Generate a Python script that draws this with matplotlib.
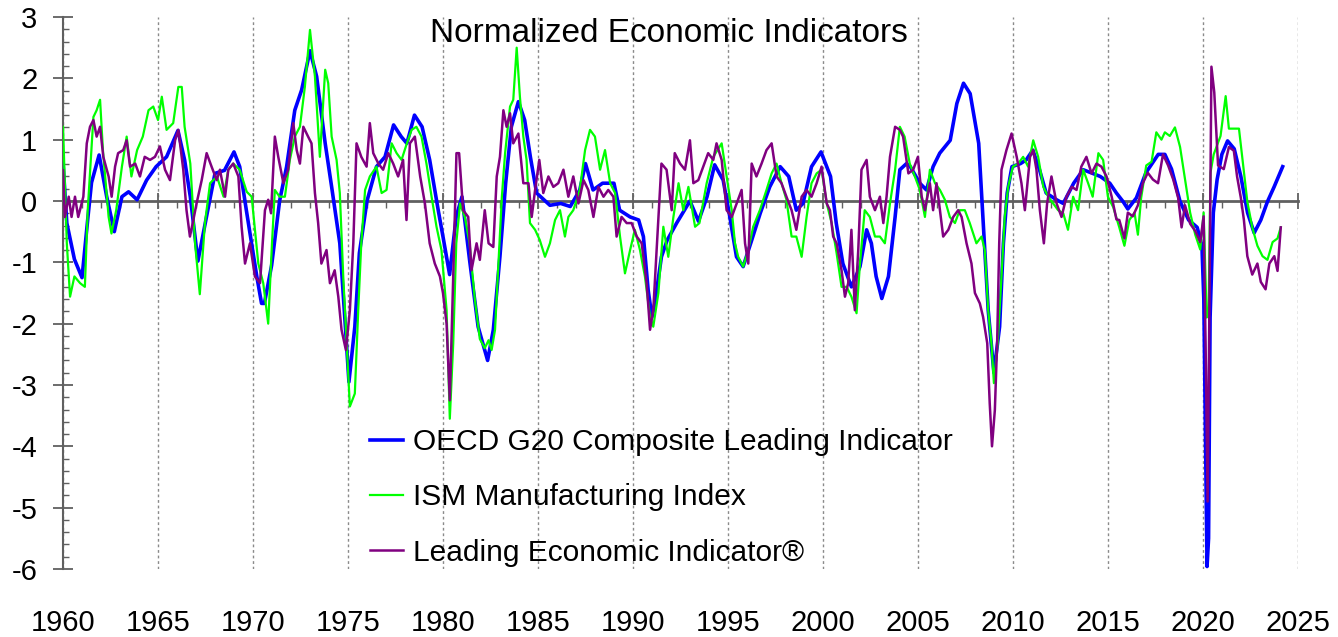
import matplotlib
matplotlib.use("Agg")
import matplotlib.pyplot as plt
from matplotlib.ticker import MultipleLocator

plt.rcParams["font.family"] = ["Liberation Sans", "DejaVu Sans"]
plt.rcParams["axes.unicode_minus"] = False

# ------------------------------------------------------------
# Data
# ------------------------------------------------------------

oecd_years = [
    1960.0, 1960.2, 1960.6, 1961.0, 1961.3, 1961.5, 1961.9, 1962.3, 1962.7, 1963.1,
    1963.45, 1963.9, 1964.4, 1964.9, 1965.45, 1966.05, 1966.4, 1966.7, 1967.1, 1967.55,
    1968.0, 1968.5, 1969.0, 1969.3, 1969.65, 1970.2, 1970.45, 1970.6, 1970.98, 1971.4,
    1971.77, 1972.2, 1972.56, 1973.0, 1973.35, 1973.8, 1974.14, 1974.57, 1974.84, 1975.05,
    1975.36, 1975.6, 1976.0, 1976.5, 1976.95, 1977.4, 1977.8, 1978.1, 1978.5, 1978.9,
    1979.3, 1979.75, 1980.0, 1980.35, 1980.7, 1981.0, 1981.4, 1981.85, 1982.35, 1982.65,
    1983.0, 1983.3, 1983.6, 1983.97, 1984.3, 1984.6, 1984.93, 1985.63, 1986.2, 1986.7,
    1987.2, 1987.5, 1987.9, 1988.4, 1989.0, 1989.3, 1989.85, 1990.3, 1990.55, 1990.8,
    1991.0, 1991.15, 1991.5, 1991.8, 1992.3, 1993.0, 1993.45, 1993.9, 1994.3, 1994.75,
    1995.1, 1995.45, 1995.8, 1996.25, 1996.7, 1997.2, 1997.75, 1998.2, 1998.6, 1998.95,
    1999.4, 1999.9, 2000.4, 2000.7, 2001.05, 2001.5, 2001.95, 2002.3, 2002.55, 2002.8,
    2003.1, 2003.45, 2003.8, 2004.05, 2004.4, 2004.6, 2005.1, 2005.45, 2005.8, 2006.15,
    2006.7, 2007.05, 2007.4, 2007.75, 2008.2, 2008.45, 2008.7, 2009.0, 2009.3, 2009.5,
    2009.7, 2009.95, 2010.4, 2010.7, 2011.05, 2011.4, 2011.75, 2012.3, 2012.65, 2013.2,
    2013.7, 2014.2, 2014.6, 2015.1, 2015.45, 2015.8, 2016.05, 2016.5, 2017.0, 2017.65,
    2018.0, 2018.35, 2018.8, 2019.25, 2019.7, 2019.95, 2020.05, 2020.12, 2020.22, 2020.3,
    2020.38, 2020.55, 2020.75, 2021.0, 2021.3, 2021.65, 2022.0, 2022.35, 2022.7, 2023.05,
    2023.4, 2023.75, 2024.2,
]
oecd_values = [
    0.62, -0.36, -0.95, -1.25, -0.3, 0.3, 0.75, 0.07, -0.5, 0.07,
    0.15, 0.02, 0.34, 0.56, 0.72, 1.15, 0.67, 0.07, -0.98, -0.26,
    0.45, 0.5, 0.8, 0.56, -0.15, -1.23, -1.67, -1.67, -1.05, 0.0,
    0.56, 1.48, 1.81, 2.45, 2.03, 0.94, 0.23, -0.69, -1.94, -2.95,
    -2.05, -0.85, 0.0, 0.56, 0.72, 1.24, 1.05, 0.94, 1.40, 1.21,
    0.67, -0.15, -0.58, -1.2, -0.25, 0.07, -0.96, -2.05, -2.6, -2.1,
    -0.9, 0.29, 1.21, 1.62, 1.32, 0.72, 0.13, -0.07, -0.04, -0.09,
    0.18, 0.61, 0.18, 0.29, 0.29, -0.15, -0.26, -0.31, -0.58, -1.45,
    -1.89, -1.67, -0.91, -0.64, -0.36, 0.0, -0.33, 0.07, 0.59, 0.34,
    -0.26, -0.91, -1.07, -0.64, -0.2, 0.23, 0.56, 0.4, -0.15, -0.04,
    0.56, 0.8, 0.4, -0.36, -1.02, -1.4, -1.07, -0.47, -0.69, -1.23,
    -1.59, -1.23, -0.26, 0.51, 0.61, 0.56, 0.29, 0.18, 0.56, 0.78,
    0.99, 1.59, 1.92, 1.75, 0.94, -0.42, -1.78, -2.8, -2.05, -0.69,
    0.13, 0.56, 0.61, 0.67, 0.83, 0.51, 0.13, 0.02, -0.04, 0.29,
    0.51, 0.45, 0.40, 0.29, 0.13, -0.01, -0.13, 0.05, 0.46, 0.76,
    0.76, 0.52, -0.01, -0.31, -0.43, -0.73, -1.6, -3.4, -5.96, -5.5,
    -1.9, -0.19, 0.35, 0.76, 0.98, 0.85, 0.4, -0.19, -0.52, -0.31,
    -0.01, 0.23, 0.56,
]

ism_years = [
    1960.0, 1960.2, 1960.37, 1960.6, 1960.9, 1961.15, 1961.3, 1961.6, 1961.77, 1961.95,
    1962.1, 1962.4, 1962.55, 1962.8, 1963.1, 1963.35, 1963.6, 1963.9, 1964.2, 1964.5,
    1964.75, 1965.0, 1965.2, 1965.45, 1965.8, 1966.07, 1966.25, 1966.4, 1966.7, 1966.95,
    1967.2, 1967.47, 1967.74, 1968.1, 1968.45, 1968.7, 1968.96, 1969.3, 1969.67, 1969.93,
    1970.28, 1970.54, 1970.8, 1971.0, 1971.15, 1971.4, 1971.68, 1971.94, 1972.2, 1972.47,
    1972.73, 1973.0, 1973.26, 1973.52, 1973.8, 1973.96, 1974.14, 1974.4, 1974.57, 1974.75,
    1974.93, 1975.1, 1975.36, 1975.54, 1975.7, 1975.9, 1976.15, 1976.5, 1976.77, 1977.03,
    1977.3, 1977.56, 1977.82, 1978.1, 1978.35, 1978.6, 1978.87, 1979.13, 1979.4, 1979.66,
    1979.92, 1980.19, 1980.36, 1980.54, 1980.7, 1980.9, 1981.15, 1981.4, 1981.68, 1981.94,
    1982.2, 1982.4, 1982.56, 1982.74, 1982.9, 1983.1, 1983.27, 1983.53, 1983.7, 1983.88,
    1984.05, 1984.23, 1984.4, 1984.58, 1984.85, 1985.1, 1985.37, 1985.63, 1985.9, 1986.16,
    1986.42, 1986.6, 1986.86, 1987.2, 1987.48, 1987.74, 1988.0, 1988.27, 1988.53, 1988.8,
    1989.06, 1989.32, 1989.58, 1989.85, 1990.1, 1990.37, 1990.63, 1990.9, 1991.07, 1991.34,
    1991.6, 1991.86, 1992.13, 1992.4, 1992.65, 1992.92, 1993.27, 1993.5, 1993.88, 1994.23,
    1994.67, 1994.93, 1995.2, 1995.37, 1995.54, 1995.8, 1996.07, 1996.33, 1996.68, 1997.03,
    1997.3, 1997.56, 1997.82, 1998.08, 1998.35, 1998.6, 1998.88, 1999.14, 1999.4, 1999.67,
    1999.93, 2000.2, 2000.46, 2000.72, 2000.98, 2001.25, 2001.5, 2001.77, 2001.95, 2002.2,
    2002.47, 2002.74, 2003.0, 2003.26, 2003.53, 2003.8, 2004.05, 2004.3, 2004.57, 2004.84,
    2005.1, 2005.37, 2005.63, 2005.9, 2006.16, 2006.42, 2006.68, 2006.95, 2007.2, 2007.47,
    2007.73, 2008.08, 2008.35, 2008.52, 2008.7, 2008.87, 2009.0, 2009.2, 2009.4, 2009.57,
    2009.75, 2010.0, 2010.28, 2010.54, 2010.8, 2011.07, 2011.33, 2011.6, 2011.86, 2012.12,
    2012.38, 2012.65, 2012.9, 2013.17, 2013.43, 2013.7, 2013.96, 2014.2, 2014.5, 2014.75,
    2015.0, 2015.28, 2015.6, 2015.87, 2016.13, 2016.4, 2016.58, 2016.75, 2017.02, 2017.3,
    2017.55, 2017.82, 2018.0, 2018.26, 2018.53, 2018.8, 2019.06, 2019.33, 2019.6, 2019.86,
    2020.04, 2020.2, 2020.3, 2020.4, 2020.57, 2020.93, 2021.2, 2021.37, 2021.63, 2021.9,
    2022.1, 2022.34, 2022.6, 2022.87, 2023.14, 2023.4, 2023.67, 2023.93, 2024.1,
]
ism_values = [
    1.21, -0.69, -1.56, -1.23, -1.34, -1.4, -0.15, 1.37, 1.48, 1.65,
    0.83, -0.26, -0.53, -0.15, 0.56, 1.05, 0.4, 0.83, 1.05, 1.48,
    1.54, 1.32, 1.7, 1.16, 1.27, 1.86, 1.86, 1.21, 0.61, -0.69,
    -1.52, -0.36, 0.29, 0.4, 0.07, 0.51, 0.61, 0.51, 0.15, 0.07,
    -1.02, -1.34, -2.0, -0.69, 0.18, 0.07, 0.07, 0.67, 1.05, 1.21,
    1.86, 2.79, 2.03, 0.72, 2.14, 1.92, 1.05, 0.67, 0.13, -1.23,
    -2.32, -3.35, -3.14, -1.78, -0.69, 0.18, 0.4, 0.56, 0.13, 0.18,
    0.94, 0.78, 0.67, 0.94, 1.16, 1.21, 1.05, 0.61, 0.07, -0.42,
    -0.8, -1.78, -3.55, -2.32, -0.69, -0.04, -0.26, -0.69, -1.61, -2.25,
    -2.4, -2.27, -2.43, -2.1, -1.12, 0.07, 0.78, 1.54, 1.65, 2.5,
    1.7, 1.05, 0.67, -0.36, -0.47, -0.64, -0.91, -0.69, -0.31, -0.15,
    -0.58, -0.26, -0.15, 0.18, 0.83, 1.16, 1.05, 0.51, 0.83, 0.29,
    0.13, -0.58, -1.18, -0.8, -0.47, -0.8, -1.23, -1.89, -2.05, -1.5,
    -0.42, -0.91, -0.26, 0.29, -0.15, 0.23, -0.42, -0.36, 0.29, 0.72,
    0.94, 0.4, -0.15, -0.69, -0.91, -1.07, -0.8, -0.42, -0.15, 0.18,
    0.45, 0.61, 0.29, 0.02, -0.58, -0.58, -0.91, -0.26, 0.29, 0.45,
    0.51, -0.04, -0.36, -0.85, -1.4, -1.4, -1.56, -1.83, -1.02, -0.15,
    -0.26, -0.58, -0.58, -0.69, -0.04, 0.51, 1.21, 1.05, 0.61, 0.4,
    0.18, -0.26, 0.51, 0.29, 0.18, 0.02, -0.26, -0.36, -0.15, -0.15,
    -0.36, -0.69, -0.58, -0.8, -1.78, -2.32, -2.97, -2.32, -1.23, -0.26,
    0.23, 0.56, 0.61, 0.72, 0.56, 0.99, 0.72, 0.23, 0.07, -0.04,
    -0.15, -0.2, -0.47, 0.07, -0.15, 0.51, 0.29, 0.07, 0.78, 0.67,
    0.07, -0.1, -0.43, -0.73, -0.31, -0.19, -0.55, 0.05, 0.58, 0.64,
    1.12, 1.0, 1.12, 1.06, 1.2, 0.88, 0.35, -0.19, -0.55, -0.79,
    -0.19, -1.9, -1.8, 0.46, 0.76, 1.06, 1.71, 1.18, 1.18, 1.18,
    0.64, -0.01, -0.43, -0.73, -0.9, -0.96, -0.67, -0.61, -0.43,
]

lei_years = [
    1960.0, 1960.1, 1960.3, 1960.45, 1960.63, 1960.8, 1961.07, 1961.25, 1961.42, 1961.6,
    1961.77, 1961.95, 1962.12, 1962.4, 1962.56, 1962.74, 1962.9, 1963.17, 1963.35, 1963.53,
    1963.8, 1964.05, 1964.3, 1964.58, 1964.84, 1965.1, 1965.37, 1965.63, 1965.9, 1966.07,
    1966.33, 1966.5, 1966.68, 1966.86, 1967.03, 1967.3, 1967.56, 1967.82, 1968.09, 1968.26,
    1968.53, 1968.7, 1968.96, 1969.23, 1969.4, 1969.58, 1969.84, 1970.1, 1970.37, 1970.63,
    1970.8, 1970.95, 1971.15, 1971.33, 1971.6, 1971.85, 1972.12, 1972.3, 1972.47, 1972.65,
    1972.9, 1973.08, 1973.26, 1973.43, 1973.6, 1973.87, 1974.05, 1974.3, 1974.49, 1974.66,
    1974.89, 1975.1, 1975.28, 1975.45, 1975.7, 1975.98, 1976.15, 1976.33, 1976.6, 1976.85,
    1977.12, 1977.38, 1977.64, 1977.9, 1978.08, 1978.26, 1978.52, 1978.8, 1979.05, 1979.3,
    1979.57, 1979.84, 1980.0, 1980.19, 1980.36, 1980.54, 1980.71, 1980.85, 1981.06, 1981.33,
    1981.5, 1981.77, 1981.94, 1982.2, 1982.4, 1982.65, 1982.83, 1983.0, 1983.18, 1983.35,
    1983.53, 1983.7, 1983.97, 1984.23, 1984.5, 1984.67, 1984.85, 1985.07, 1985.28, 1985.55,
    1985.81, 1986.07, 1986.34, 1986.6, 1986.86, 1987.13, 1987.4, 1987.65, 1987.92, 1988.18,
    1988.45, 1988.7, 1988.97, 1989.14, 1989.4, 1989.67, 1989.93, 1990.2, 1990.46, 1990.72,
    1990.9, 1991.07, 1991.34, 1991.5, 1991.77, 1992.04, 1992.2, 1992.48, 1992.74, 1993.0,
    1993.18, 1993.44, 1993.7, 1993.96, 1994.23, 1994.4, 1994.67, 1994.93, 1995.2, 1995.46,
    1995.72, 1995.9, 1996.07, 1996.25, 1996.5, 1996.77, 1997.03, 1997.3, 1997.56, 1997.82,
    1998.08, 1998.35, 1998.6, 1998.88, 1999.14, 1999.4, 1999.67, 1999.93, 2000.2, 2000.37,
    2000.54, 2000.72, 2000.98, 2001.16, 2001.33, 2001.5, 2001.68, 2001.86, 2002.03, 2002.3,
    2002.47, 2002.74, 2003.0, 2003.18, 2003.35, 2003.53, 2003.8, 2004.05, 2004.22, 2004.5,
    2004.75, 2005.0, 2005.2, 2005.37, 2005.63, 2005.8, 2005.98, 2006.16, 2006.33, 2006.6,
    2006.86, 2007.12, 2007.3, 2007.56, 2007.82, 2008.0, 2008.26, 2008.43, 2008.65, 2008.78,
    2008.9, 2009.05, 2009.17, 2009.28, 2009.4, 2009.66, 2009.93, 2010.2, 2010.45, 2010.63,
    2010.9, 2011.07, 2011.24, 2011.42, 2011.63, 2011.8, 2012.03, 2012.3, 2012.56, 2012.82,
    2013.1, 2013.35, 2013.6, 2013.87, 2014.14, 2014.4, 2014.66, 2014.93, 2015.2, 2015.45,
    2015.6, 2015.87, 2016.05, 2016.31, 2016.58, 2016.84, 2017.1, 2017.37, 2017.64, 2017.9,
    2018.17, 2018.44, 2018.7, 2018.88, 2019.06, 2019.33, 2019.6, 2019.86, 2020.04, 2020.15,
    2020.25, 2020.35, 2020.45, 2020.6, 2020.8, 2021.1, 2021.37, 2021.63, 2021.8, 2022.0,
    2022.16, 2022.34, 2022.6, 2022.87, 2023.05, 2023.3, 2023.5, 2023.76, 2023.93, 2024.1,
]
lei_values = [
    0.5, -0.26, 0.07, -0.26, 0.07, -0.26, 0.07, 0.94, 1.21, 1.32,
    1.05, 1.21, 0.72, 0.4, 0.07, 0.56, 0.78, 0.83, 0.99, 0.56,
    0.61, 0.4, 0.72, 0.67, 0.72, 0.89, 0.51, 0.34, 0.99, 1.16,
    0.51, -0.15, -0.58, -0.31, -0.04, 0.34, 0.78, 0.56, 0.34, 0.51,
    0.07, 0.51, 0.61, 0.4, -0.42, -1.02, -0.69, -1.23, -1.34, -0.15,
    0.02, -0.2, 1.05, 0.72, 0.29, 0.51, 1.27, 0.83, 0.61, 1.21,
    1.05, 0.94, 0.13, -0.36, -1.02, -0.8, -1.34, -1.13, -1.56, -2.1,
    -2.43, -1.78, -0.69, 0.94, 0.72, 0.56, 1.27, 0.78, 0.61, 0.51,
    0.78, 0.61, 0.4, 0.67, -0.31, 0.94, 1.05, 0.4, -0.04, -0.69,
    -1.02, -1.23, -1.5, -2.0, -3.25, -1.23, 0.78, 0.78, -0.15, -0.26,
    -1.13, -0.69, -0.96, -0.15, -0.69, -0.75, 0.4, 0.72, 1.48, 1.21,
    1.43, 0.94, 1.1, 0.29, 0.29, -0.26, 0.18, 0.67, 0.13, 0.4,
    0.23, 0.29, 0.51, 0.07, 0.4, -0.04, 0.34, 0.18, -0.26, 0.23,
    0.07, 0.18, 0.07, -0.58, -0.26, -0.36, -0.36, -0.58, -0.69, -1.34,
    -2.1, -1.78, -0.26, 0.61, 0.51, -0.15, 0.78, 0.61, 0.51, 0.99,
    0.29, 0.34, 0.56, 0.78, 0.67, 0.94, 0.67, -0.15, -0.26, -0.04,
    0.18, -0.69, -1.02, 0.61, 0.4, 0.61, 0.83, 0.94, 0.4, 0.29,
    0.07, -0.15, -0.47, 0.07, 0.18, 0.07, 0.29, 0.56, -0.04, -0.15,
    -0.58, -0.69, -1.13, -1.56, -1.34, -0.47, -1.78, -0.8, 0.51, 0.67,
    0.07, -0.15, 0.07, -0.36, 0.07, 0.72, 1.21, 1.16, 1.05, 0.45,
    0.51, 0.72, 0.07, -0.15, 0.29, -0.15, 0.29, -0.15, -0.58, -0.47,
    -0.26, -0.15, -0.26, -0.69, -1.02, -1.5, -1.67, -1.89, -2.32, -3.3,
    -4.0, -3.41, -2.32, -0.69, 0.51, 0.83, 1.1, 0.72, 0.29, -0.15,
    0.72, 0.83, 0.51, -0.15, -0.69, -0.04, 0.4, -0.04, -0.26, 0.07,
    0.23, 0.18, 0.56, 0.72, 0.45, 0.61, 0.56, 0.4, 0.07, -0.3,
    -0.31, -0.61, -0.19, -0.25, -0.07, 0.29, 0.46, 0.35, 0.29, 0.76,
    0.58, 0.35, 0.05, -0.43, -0.07, -0.37, -0.49, -0.67, -0.25, -2.5,
    -4.9, -1.5, 2.19, 1.77, 0.58, 0.52, 0.88, 0.82, 0.4, 0.05,
    -0.31, -0.9, -1.2, -1.02, -1.32, -1.44, -1.02, -0.9, -1.14, -0.43,
]

series_labels = [
    "OECD G20 Composite Leading Indicator",
    "ISM Manufacturing Index",
    "Leading Economic Indicator®",
]

year_ticks = list(range(1960, 2026, 5))


# ------------------------------------------------------------
# Figure
# ------------------------------------------------------------

fig = plt.figure(figsize=(13.38, 6.37), dpi=100)
ax = fig.add_axes([0.0471, 0.1068, 0.9229, 0.8665])

ax.plot(oecd_years, oecd_values, color="#0000ff", lw=2.6,
        label=series_labels[0], zorder=3)
ax.plot(ism_years, ism_values, color="#00ff00", lw=1.6,
        label=series_labels[1], zorder=4)
ax.plot(lei_years, lei_values, color="#800080", lw=1.8,
        label=series_labels[2], zorder=5)

ax.set_xlim(1960, 2025)
ax.set_ylim(-6, 3)

axis_grey = "#606060"

for side in ("top", "right"):
    ax.spines[side].set_visible(False)
ax.spines["left"].set_color(axis_grey)
ax.spines["left"].set_linewidth(1.5)
ax.spines["bottom"].set_position(("data", 0))
ax.spines["bottom"].set_color(axis_grey)
ax.spines["bottom"].set_linewidth(2.0)
ax.spines["bottom"].set_zorder(2)

ax.xaxis.set_major_locator(MultipleLocator(5))
ax.xaxis.set_minor_locator(MultipleLocator(1))
ax.tick_params(axis="x", which="major", direction="inout", length=12,
               width=1.3, color=axis_grey, labelbottom=False)
ax.tick_params(axis="x", which="minor", direction="out", length=5,
               width=1.0, color=axis_grey)

ax.yaxis.set_major_locator(MultipleLocator(1))
ax.yaxis.set_minor_locator(MultipleLocator(0.2))
ax.tick_params(axis="y", which="major", direction="inout", length=15,
               width=1.3, color=axis_grey, labelsize=21, pad=11)
ax.tick_params(axis="y", which="minor", direction="in", length=4.5,
               width=1.0, color=axis_grey)

ax.grid(axis="x", which="major", color="#8a8a8a", linestyle=(0, (2, 2)),
        linewidth=1.0, zorder=1)

# year labels along the bottom edge
sec = ax.secondary_xaxis("bottom")
sec.set_xticks(year_ticks)
sec.set_xticklabels([str(y) for y in year_ticks])
sec.tick_params(axis="x", length=0, labelsize=21, pad=29)
sec.spines["bottom"].set_visible(False)

fig.text(0.5, 0.934, "Normalized Economic Indicators", ha="center",
         va="baseline", fontsize=24)

ax.legend(loc="upper left", bbox_to_anchor=(370 / 1338, 1 - 428 / 637),
          bbox_transform=fig.transFigure, frameon=False, fontsize=21.5,
          borderpad=0, borderaxespad=0, handlelength=1.1,
          handletextpad=0.33, labelspacing=0.92)

plt.savefig("out.png", dpi=100)
plt.close()
